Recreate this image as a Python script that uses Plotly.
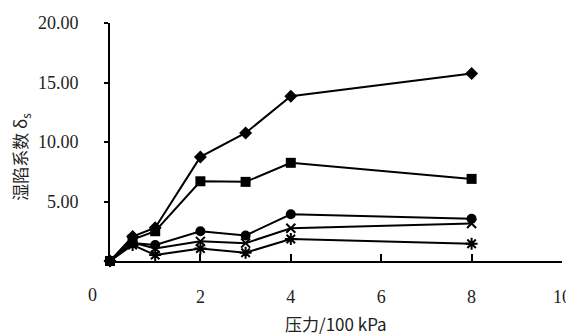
import plotly.graph_objects as go

pressure = [0, 0.5, 1, 2, 3, 4, 8]
s_diamond = [0, 2.05, 2.8, 8.75, 10.76, 13.85, 15.75]
s_square = [0, 1.8, 2.5, 6.7, 6.65, 8.25, 6.9]
s_circle = [0, 1.5, 1.35, 2.5, 2.15, 3.93, 3.55]
s_cross = [0, 1.55, 1.05, 1.65, 1.5, 2.75, 3.15]
s_star = [0, 1.35, 0.5, 1.05, 0.7, 1.85, 1.45]

x_ticks = [2, 4, 6, 8, 10]
y_ticks = [5, 10, 15, 20]
y_tick_text = ["5.00", "10.00", "15.00", "20.00"]

series = [
    (s_diamond, "diamond", 10, None),
    (s_square, "square", 10, None),
    (s_circle, "circle", 10, None),
    (s_cross, "x-thin-open", 9, 2),
    (s_star, "asterisk-open", 10, 2),
]

fig = go.Figure()
for vals, sym, size, lw in series:
    marker = dict(symbol=sym, size=size, color="black")
    if lw:
        marker["line"] = dict(color="black", width=lw)
    fig.add_trace(go.Scatter(x=pressure, y=vals, mode="lines+markers",
                             line=dict(color="black", width=2), marker=marker,
                             showlegend=False, cliponaxis=False))

font = dict(family="Liberation Serif", size=18, color="#222")
cjk = dict(family="Noto Sans CJK SC", size=17, color="#222")

# page body adds an 8px offset; figure is sized/margined to compensate
W, H = 566, 327
L, T = 102, 15
PW, PH = 452, 238.5

fig.update_layout(
    width=W, height=H,
    margin=dict(l=L, r=W - L - PW, t=T, b=H - T - PH),
    paper_bgcolor="white", plot_bgcolor="white",
    font=font,
    xaxis=dict(range=[0, 10], tickvals=x_ticks, showgrid=False, zeroline=False,
               showline=True, linecolor="black", linewidth=2, automargin=False,
               ticks="inside", ticklen=7, tickwidth=2, tickcolor="black",
               ticklabelstandoff=18, tickfont=font),
    yaxis=dict(range=[0, 20], tickvals=y_ticks, ticktext=y_tick_text, showgrid=False,
               zeroline=False, showline=True, linecolor="black", linewidth=2,
               automargin=False,
               ticks="outside", ticklen=4, tickwidth=2, tickcolor="black",
               ticklabelstandoff=22, tickfont=font),
    annotations=[
        dict(text="0", xref="paper", yref="paper", x=-18 / PW, y=-34.5 / PH,
             xanchor="center", yanchor="middle", showarrow=False, font=font),
        dict(text="压力/100 kPa", xref="paper", yref="paper", x=0.5, y=-63 / PH,
             xanchor="center", yanchor="middle", showarrow=False, font=cjk),
        dict(text="湿陷系数 δ<sub>s</sub>", xref="paper", yref="paper", x=-89 / PW,
             y=104.5 / PH, xanchor="center", yanchor="middle", textangle=-90,
             showarrow=False,
             font=dict(family="Noto Sans CJK SC", size=17, color="#222")),
    ],
)

fig.write_html("out.html")
